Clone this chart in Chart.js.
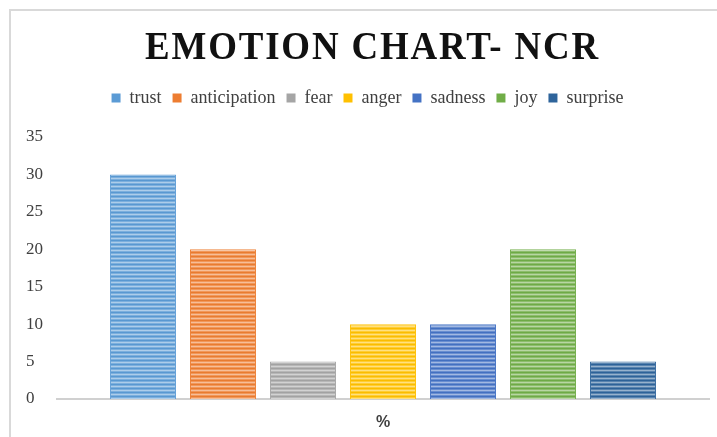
<!DOCTYPE html>
<html>
<head>
<meta charset="utf-8">
<script src="https://cdn.jsdelivr.net/npm/chart.js@4.4.0/dist/chart.umd.min.js"></script>
<style>
  html, body { margin: 0; padding: 0; background: #fff; overflow: hidden; }
  #frame { position: absolute; left: 9px; top: 9px; width: 760px; height: 480px; border: 2px solid #d9d9d9; }
  #chart_emotions { position: absolute; left: 0; top: 0; }
</style>
</head>
<body>
<div id="frame"></div>
<canvas id="chart_emotions" width="717" height="437"></canvas>
<script>
const titleText = 'EMOTION CHART- NCR';
const categories = ['%'];
const emotions = ['trust', 'anticipation', 'fear', 'anger', 'sadness', 'joy', 'surprise'];
const values = [30, 20, 5, 10, 10, 20, 5];
const colors = ['#5b9bd5', '#ed7d31', '#a5a5a5', '#ffc000', '#4472c4', '#70ad47', '#2e649b'];
const yTicks = [0, 5, 10, 15, 20, 25, 30, 35];

// mix a hex colour with white (amt > 0) or black (amt < 0)
function shade(hex, amt) {
    const n = parseInt(hex.slice(1), 16);
    let rgb = [(n >> 16) & 255, (n >> 8) & 255, n & 255];
    rgb = rgb.map(v => amt > 0 ? Math.round(v + (255 - v) * amt) : Math.round(v * (1 + amt)));
    return 'rgb(' + rgb.join(',') + ')';
}

// horizontal stripes like the excel fill
function stripes(hex) {
    const c = document.createElement('canvas');
    c.width = 4; c.height = 4;
    const g = c.getContext('2d');
    g.fillStyle = shade(hex, -0.02); g.fillRect(0, 0, 4, 1);
    g.fillStyle = shade(hex, 0.2);   g.fillRect(0, 1, 4, 1);
    g.fillStyle = shade(hex, 0.5);   g.fillRect(0, 2, 4, 1);
    g.fillStyle = shade(hex, 0.2);   g.fillRect(0, 3, 4, 1);
    return g.createPattern(c, 'repeat');
}

const titlePlugin = {
    id: 'stretchedTitle',
    afterDraw(chart) {
        const ctx = chart.ctx;
        ctx.save();
        ctx.font = 'bold 40px "Liberation Serif"';
        ctx.letterSpacing = '2px';
        ctx.fillStyle = '#111';
        ctx.textAlign = 'center';
        ctx.textBaseline = 'middle';
        const w = ctx.measureText(titleText).width;
        ctx.translate(chart.width / 2 + 14, 49);
        ctx.scale(455 / w, 1);
        ctx.fillText(titleText, 0, 0);
        ctx.restore();
    }
};

const legendHeight = {
    id: 'legendHeight',
    beforeInit(chart) {
        const fit = chart.legend.fit;
        chart.legend.fit = function () {
            fit.call(this);
            this.height = 59;
        };
    }
};

const ctx = document.getElementById('chart_emotions').getContext('2d');

const myChart = new Chart(ctx, {
    type: 'bar',
    data: {
        labels: categories,
        datasets: emotions.map((name, i) => ({
            label: name,
            data: [values[i]],
            backgroundColor: stripes(colors[i]),
            borderColor: shade(colors[i], 0.05),
            borderWidth: 1,
            categoryPercentage: 0.859,
            barPercentage: 0.825
        }))
    },
    options: {
        responsive: false,
        animation: false,
        devicePixelRatio: 1,
        layout: {
            padding: { top: 78, left: 26, right: 8, bottom: 0 }
        },
        scales: {
            x: {
                grid: { display: false, drawTicks: false },
                border: { display: true, color: '#d0d0d0', width: 2 },
                ticks: {
                    color: '#404040',
                    padding: 14,
                    font: { family: '"Liberation Sans"', size: 16, weight: 'bold' }
                },
                afterFit(scale) { scale.height = 38; }
            },
            y: {
                min: yTicks[0],
                max: yTicks[yTicks.length - 1],
                grid: { display: false, drawTicks: false },
                border: { display: false },
                ticks: {
                    stepSize: yTicks[1] - yTicks[0],
                    crossAlign: 'far',
                    color: '#404040',
                    font: { family: '"Liberation Serif"', size: 17 }
                },
                afterFit(scale) { scale.width = 31; }
            }
        },
        plugins: {
            title: { display: false },
            tooltip: { enabled: false },
            legend: {
                position: 'top',
                labels: {
                    boxWidth: 9,
                    boxHeight: 9,
                    padding: 11,
                    color: '#404040',
                    font: { family: '"Liberation Serif"', size: 18 },
                    generateLabels(chart) {
                        const items = Chart.defaults.plugins.legend.labels.generateLabels(chart);
                        items.forEach((it, i) => {
                            it.fillStyle = colors[i];
                            it.strokeStyle = colors[i];
                            it.lineWidth = 0;
                        });
                        return items;
                    }
                }
            }
        }
    },
    plugins: [titlePlugin, legendHeight]
});
</script>
</body>
</html>
